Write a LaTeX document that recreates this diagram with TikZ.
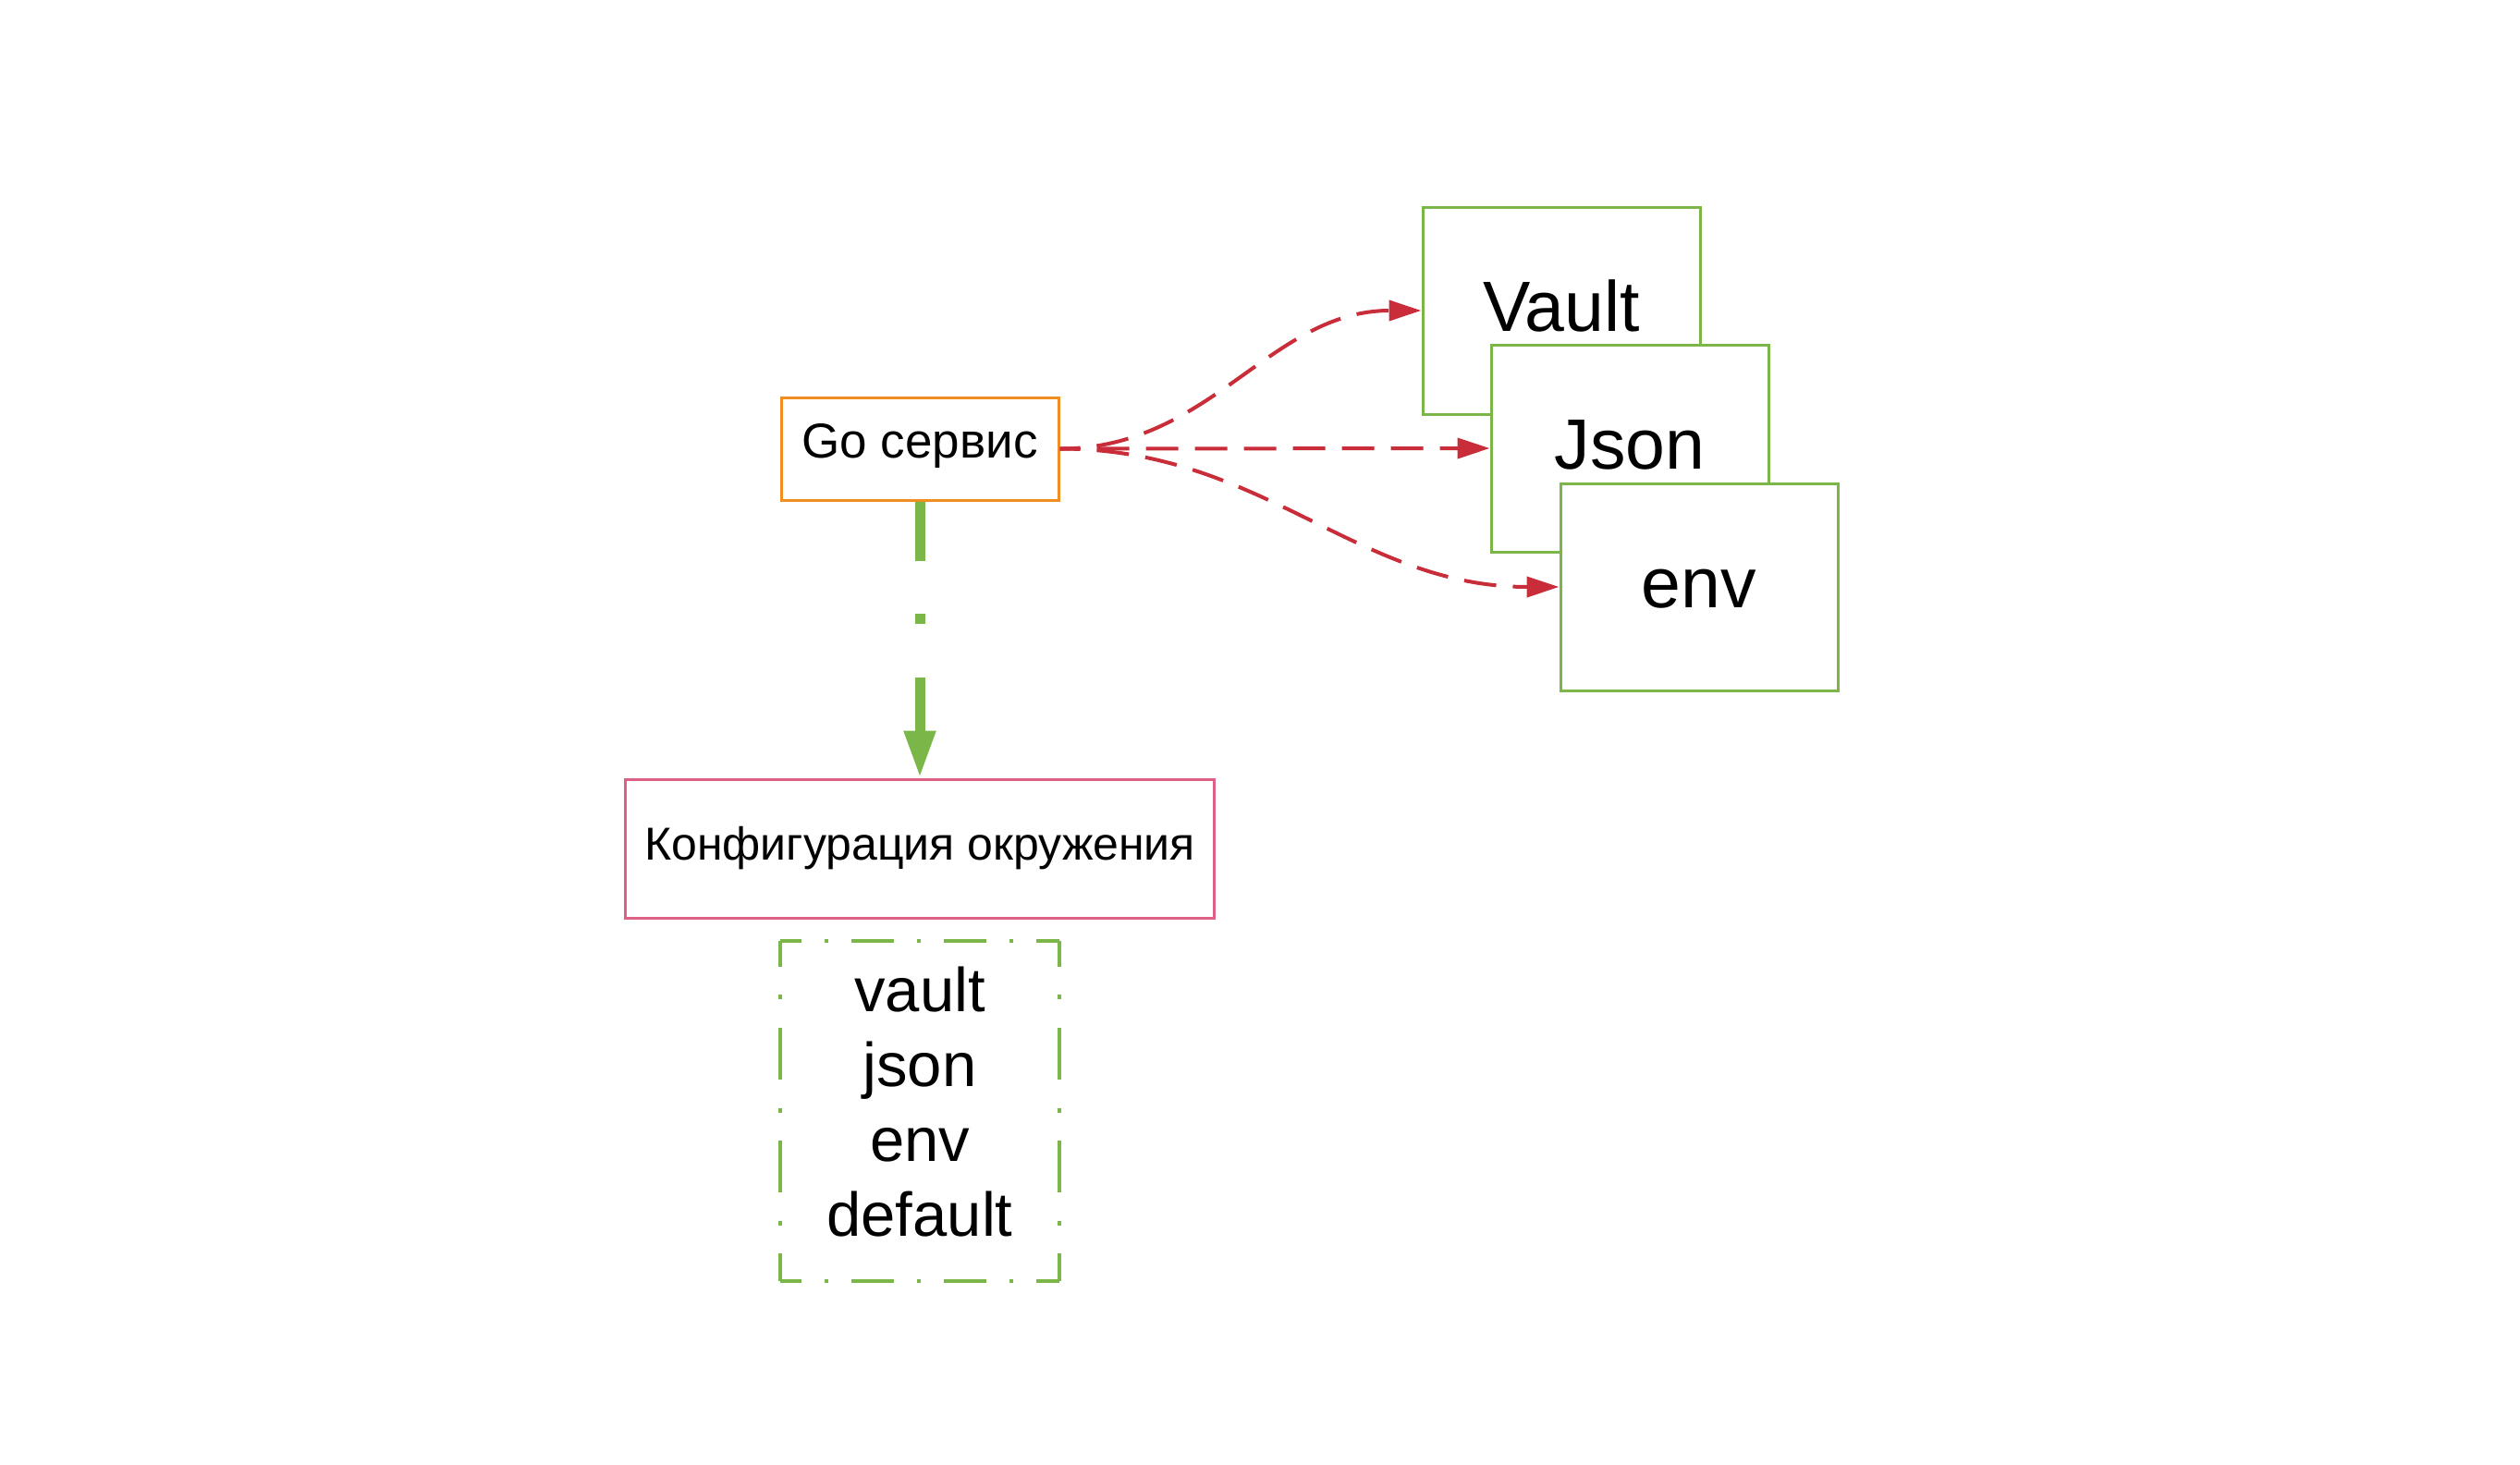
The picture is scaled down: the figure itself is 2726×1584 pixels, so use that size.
\documentclass[tikz,border=0pt]{standalone}
\usepackage{fontspec}
\setmainfont{Liberation Sans}
\usetikzlibrary{calc}
\usetikzlibrary{positioning}
\usetikzlibrary{arrows.meta}
\definecolor{goorange}{RGB}{240,142,34}
\definecolor{cfgpink}{RGB}{222,96,134}
\definecolor{srcgreen}{RGB}{122,182,72}
\definecolor{linkred}{RGB}{201,45,57}
\tikzstyle{service} = [draw=goorange,line width=0.75pt,minimum width=75pt,minimum height=27.75pt,inner sep=0pt,text height=9.5pt,text depth=4.75pt,font=\fontsize{13.25pt}{15.9pt}\selectfont]
\tikzstyle{source} = [draw=srcgreen,fill=white,line width=0.75pt,minimum width=75pt,minimum height=56pt,inner sep=0pt,text height=15.5pt,text depth=4.5pt,font=\fontsize{19.25pt}{23.1pt}\selectfont]
\tikzstyle{config} = [draw=cfgpink,line width=0.75pt,minimum width=159.25pt,minimum height=37.5pt,inner sep=0pt,font=\fontsize{12.5pt}{15pt}\selectfont]
\tikzstyle{order} = [minimum width=75pt,minimum height=91.75pt,inner sep=0pt,align=center,text depth=5.2pt,font=\fontsize{16.75pt}{20.25pt}\selectfont]
\tikzstyle{hside} = [draw=srcgreen,line width=1pt,dash pattern=on 11.5pt off 6.25pt on 1pt off 6.25pt,dash phase=5.75pt]
\tikzstyle{vside} = [draw=srcgreen,line width=1pt,dash pattern=on 14.07pt off 7.65pt on 1.22pt off 7.65pt,dash phase=7.03pt]
\tikzstyle{link} = [draw=linkred,line width=1pt,dash pattern=on 8.75pt off 4.5pt,dash phase=3.25pt,-{Triangle[length=8.75pt,width=5.5pt]}]
\tikzstyle{uses} = [draw=srcgreen,line width=2.75pt,dash pattern=on 16pt off 14.25pt on 2.75pt off 14.5pt,-{Triangle[length=12.75pt,width=8pt]}]
\begin{document}
\begin{tikzpicture}[x=0.25pt,y=-0.25pt]
	\useasboundingbox (0,0) rectangle (2726,1584);
	\node[service] (go) at (995,485.5) {Go сервис};
	\node[source] (vault) at (1689,336) {Vault};
	\node[source] (json) at ($(vault)+(74,149)$) {Json};
	\node[source] (env) at ($(json)+(75,150)$) {env};
	\node[config,below=74.75pt of go] (cfg) {Конфигурация окружения};
	\node[order,below=5.75pt of cfg] (order) {vault\\json\\env\\default};
	\draw[hside] (order.north west) -- (order.north east);
	\draw[hside] (order.south west) -- (order.south east);
	\draw[vside] (order.north west) -- (order.south west);
	\draw[vside] (order.north east) -- (order.south east);
	\draw[uses] (go.south) -- (cfg.north);
	\draw[link] (go.east) to[out=0,in=180] (vault.west);
	\draw[link] (go.east) -- (json.west);
	\draw[link] (go.east) to[out=0,in=180] (env.west);
	%\draw[link] (go.east) to[out=0,in=180,looseness=1.1] (vault.west);
\end{tikzpicture}
\end{document}
